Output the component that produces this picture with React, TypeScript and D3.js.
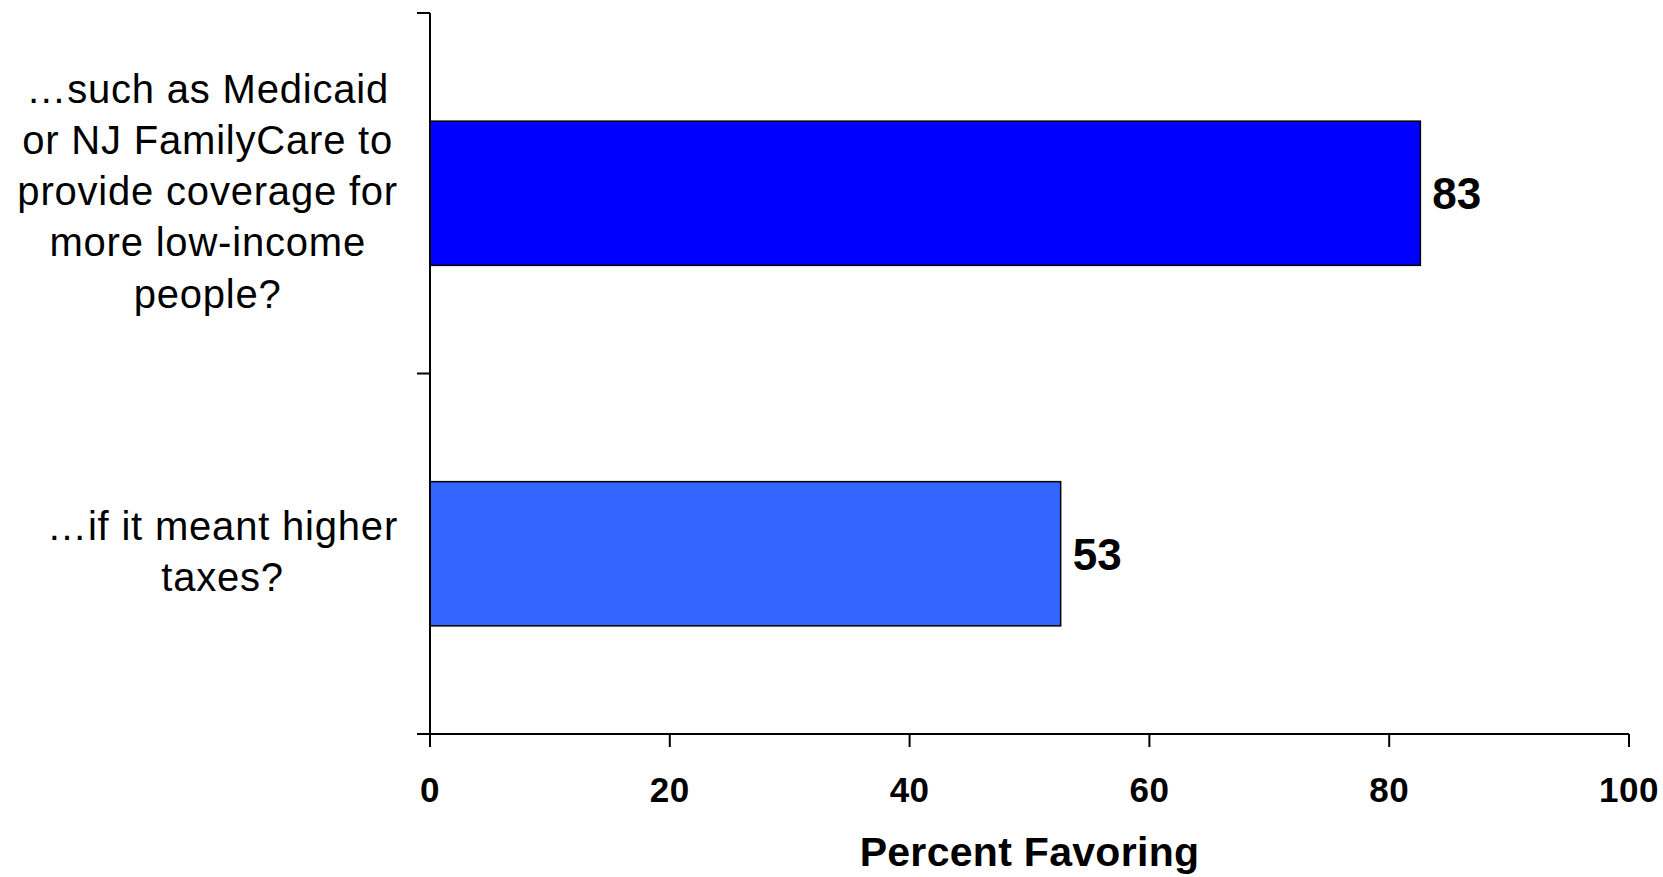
import React from "react";
import * as d3 from "d3";

const categories: string[][] = [
  ["…such as Medicaid", "or NJ FamilyCare to", "provide coverage for", "more low-income", "people?"],
  ["…if it meant higher", "taxes?"],
];
const values: number[] = [82.6, 52.6];
const barColors: string[] = ["#0000FF", "#3366FF"];
const xTicks: number[] = [0, 20, 40, 60, 80, 100];
const xTitle = "Percent Favoring";

const W = 1663;
const H = 877;
const FONT = "'Liberation Sans', Arial, Helvetica, sans-serif";

function measure(text: string, font: string, ls: number): number {
  const c = document.createElement("canvas");
  const ctx = c.getContext("2d");
  if (!ctx) return text.length * 20;
  ctx.font = font;
  return ctx.measureText(text).width + ls * text.length;
}

export default function App() {
  const x = d3.scaleLinear().domain([0, 100]).range([430, 1629]);
  const y = d3
    .scaleBand<number>()
    .domain(d3.range(values.length))
    .range([13, 734])
    .paddingInner(0.6)
    .paddingOuter(0.3);
  const step = y.step();
  const bandEdges = d3.range(values.length + 1).map((i) => 13 + i * step);
  const fmt = d3.format(".0f");
  const labelFont = `40px ${FONT}`;
  const labelLS = 0.8;
  const lineH = 51.2;
  const labelRight = 398;

  return (
    <svg
      width={W}
      height={H}
      style={{ position: "absolute", left: 0, top: 0, background: "#fff" }}
      fontFamily={FONT}
    >
      <rect x={0} y={0} width={W} height={H} fill="#fff" />
      {values.map((v, i) => (
        <rect
          key={i}
          x={x(0)}
          y={y(i)}
          width={x(v) - x(0)}
          height={y.bandwidth()}
          fill={barColors[i]}
          stroke="#000"
          strokeWidth={1.5}
        />
      ))}
      {values.map((v, i) => (
        <text
          key={i}
          x={x(v) + 12}
          y={(y(i) as number) + y.bandwidth() / 2 + 16}
          fontSize={44}
          fontWeight="bold"
          fill="#000"
        >
          {fmt(v)}
        </text>
      ))}
      <line x1={430} x2={430} y1={13} y2={734} stroke="#000" strokeWidth={2} />
      {bandEdges.map((e, i) => (
        <line key={i} x1={417} x2={430} y1={e} y2={e} stroke="#000" strokeWidth={2} />
      ))}
      <line x1={417} x2={x(100)} y1={734} y2={734} stroke="#000" strokeWidth={2} />
      {xTicks.map((t) => (
        <g key={t}>
          <line x1={x(t)} x2={x(t)} y1={734} y2={747} stroke="#000" strokeWidth={2} />
          <text
            x={x(t)}
            y={802}
            textAnchor="middle"
            fontSize={35}
            fontWeight="bold"
            fill="#000"
            letterSpacing={0.5}
          >
            {t}
          </text>
        </g>
      ))}
      <text
        x={(x(0) + x(100)) / 2}
        y={866}
        textAnchor="middle"
        fontSize={41}
        fontWeight="bold"
        fill="#000"
        letterSpacing={0.3}
      >
        {xTitle}
      </text>
      {categories.map((lines, i) => {
        const maxW = Math.max(...lines.map((l) => measure(l, labelFont, labelLS)));
        const cx = labelRight - maxW / 2;
        const cy = (y(i) as number) + y.bandwidth() / 2;
        const n = lines.length;
        return (
          <text key={i} fontSize={40} textAnchor="middle" fill="#000" letterSpacing={labelLS}>
            {lines.map((l, j) => (
              <tspan key={j} x={cx} y={cy + (j - (n - 1) / 2) * lineH + 12}>
                {l}
              </tspan>
            ))}
          </text>
        );
      })}
    </svg>
  );
}
